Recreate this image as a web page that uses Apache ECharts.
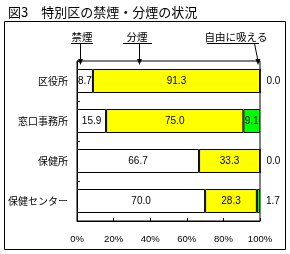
<!DOCTYPE html>
<html>
<head>
<meta charset="utf-8">
<script src="https://cdn.jsdelivr.net/npm/echarts@6/dist/echarts.min.js"></script>
<style>
html,body{margin:0;padding:0;background:#fff;}
#c{width:290px;height:254px;}
</style>
</head>
<body>
<div id="c"></div>
<script>
var categories = ['区役所', '窓口事務所', '保健所', '保健センター'];
var kinen = [8.7, 15.9, 66.7, 70.0];
var bunen = [91.3, 75.0, 33.3, 28.3];
var jiyu = [0.0, 9.1, 0.0, 1.7];
var seriesNames = ['禁煙', '分煙', '自由に吸える'];
var xTicks = [0, 20, 40, 60, 80, 100];

var chart = echarts.init(document.getElementById('c'), null, {renderer: 'canvas'});
var jp = '"Noto Sans CJK JP", sans-serif';
var num = '"Liberation Sans", Arial, sans-serif';

function fmt(p) { return Number(p.value).toFixed(1); }

var labelBase = {show: true, color: '#000', fontFamily: num, fontSize: 10, formatter: fmt};

function arrow(x) {
  return {type: 'polygon', shape: {points: [[x - 2.5, 59], [x + 2.5, 59], [x, 65]]}, style: {fill: '#000'}, z: 100};
}
function line(x1, y1, x2, y2) {
  return {type: 'line', shape: {x1: x1, y1: y1, x2: x2, y2: y2}, style: {stroke: '#000', lineWidth: 1}, z: 100};
}
function txt(x, y, s) {
  return {type: 'text', x: x, y: y, style: {text: s, fill: '#000', font: '10.5px ' + jp, textAlign: 'center', textVerticalAlign: 'middle'}, z: 100};
}

chart.setOption({
  animation: false,
  backgroundColor: '#fff',
  title: {
    text: '図3　特別区の禁煙・分煙の状況',
    left: 3, top: 1,
    textStyle: {fontFamily: jp, fontSize: 13, fontWeight: 'normal', color: '#000'}
  },
  grid: {left: 77, right: 30, top: 61, bottom: 33, show: true, borderColor: '#000', borderWidth: 1, backgroundColor: '#fff'},
  xAxis: {
    type: 'value', min: xTicks[0], max: xTicks[xTicks.length - 1], interval: 20,
    axisLine: {show: true, lineStyle: {color: '#000'}},
    axisTick: {show: true, inside: true, length: 3, lineStyle: {color: '#000'}},
    splitLine: {show: false},
    axisLabel: {color: '#000', fontFamily: num, fontSize: 9.5, margin: 13, formatter: '{value}%'}
  },
  yAxis: {
    type: 'category', data: categories, inverse: true,
    axisLine: {show: true, lineStyle: {color: '#000'}},
    axisTick: {show: true, inside: true, length: 3, lineStyle: {color: '#000'}},
    axisLabel: {color: '#000', fontFamily: jp, fontSize: 10, margin: 9}
  },
  series: [
    {name: seriesNames[0], type: 'bar', stack: 's', barWidth: 24, data: kinen,
     itemStyle: {color: '#ffffff', borderColor: '#000', borderWidth: 1},
     label: Object.assign({position: 'inside'}, labelBase)},
    {name: seriesNames[1], type: 'bar', stack: 's', barWidth: 24, data: bunen,
     itemStyle: {color: '#ffff00', borderColor: '#000', borderWidth: 1},
     label: Object.assign({position: 'inside'}, labelBase)},
    {name: seriesNames[2], type: 'bar', stack: 's', barWidth: 24,
     data: jiyu.map(function (v) { return v < 5 ? {value: v, label: {position: 'right', distance: 6}} : v; }),
     itemStyle: {color: '#00ff00', borderColor: '#000', borderWidth: 1},
     label: Object.assign({position: 'inside'}, labelBase)}
  ],
  graphic: [
    {type: 'rect', shape: {x: 4.5, y: 21.5, width: 281, height: 228}, style: {fill: 'none', stroke: '#000', lineWidth: 1}, z: 0, silent: true},
    txt(82, 37, seriesNames[0]),
    line(71, 43.5, 93, 43.5),
    line(80.5, 43.5, 80.5, 61),
    arrow(80.5),
    txt(137, 37, seriesNames[1]),
    line(123, 43.5, 152, 43.5),
    line(139.5, 43.5, 139.5, 61),
    arrow(139.5),
    txt(236, 37, seriesNames[2]),
    line(207, 43.5, 259, 43.5),
    line(254.5, 43.5, 258, 61),
    arrow(258)
  ]
});
</script>
</body>
</html>
